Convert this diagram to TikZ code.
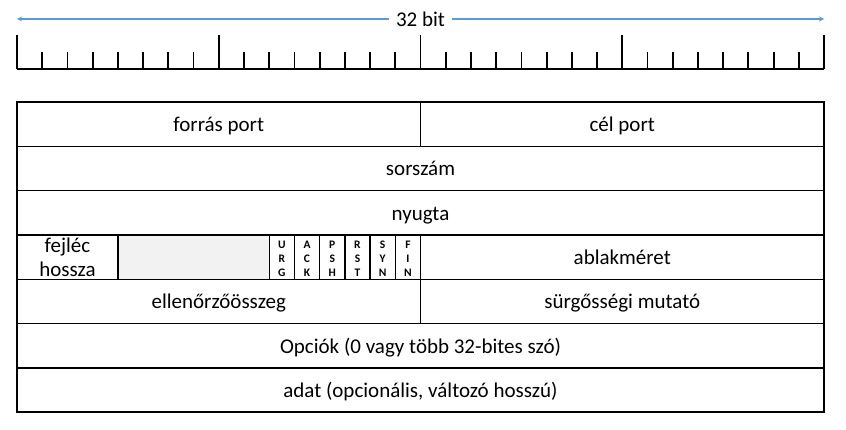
\documentclass[tikz,border=0pt]{standalone}
\usepackage{fontspec}
\setmainfont{Carlito}
\usetikzlibrary{positioning}
\definecolor{arrowblue}{RGB}{91,155,213}
\definecolor{reservedgray}{RGB}{242,242,242}
\tikzset{%
  cell/.style = {rectangle,draw,line width=1.3pt,inner sep=0pt,outer sep=0pt,
        minimum height=44.3pt,font=\fontsize{21}{24}\selectfont,align=center},
  field/.style = {cell,text height=14.7pt,text depth=0pt},
  flagbit/.style = {cell,minimum width=25.22pt,text height=39.7pt,text depth=0pt,
        font=\fontsize{11.5}{14}\selectfont\bfseries},
  widtharrow/.style = {-stealth,arrowblue,line width=1.2pt},
  rulertick/.style = {line width=1.8pt}
}

\begin{document}
\begin{tikzpicture}[x=1pt,y=1pt,node distance=0pt and 0pt]
   \useasboundingbox (0,0) rectangle (846,-430);

   % bit scale
   \node[font=\fontsize{21}{24}\selectfont,inner xsep=7pt] (bits) at (420.5,-19) {32 bit};
   \coordinate (bitsL) at (17,-19);
   \coordinate (bitsR) at (824,-19);
   \draw[widtharrow] (bits) -- (bitsL);
   \draw[widtharrow] (bits) -- (bitsR);

   \draw[rulertick] (17,-69) -- (824,-69);
   \foreach \i in {0,...,32} {
      \pgfmathsetmacro\ticktop{mod(\i,8)==0 ? 35 : 52}
      \draw[rulertick] (17+\i*25.22,-69) -- (17+\i*25.22,-\ticktop);
   }

   % header fields
   \node[field,minimum width=403.5pt,anchor=north west] (srcport) at (17,-102) {forrás port};
   \node[field,minimum width=403.5pt] (dstport) [right=of srcport] {cél port};

   \node[field,minimum width=807pt] (seqnum) [below right=of srcport.south west] {sorszám};
   \node[field,minimum width=807pt] (acknum) [below right=of seqnum.south west] {nyugta};

   \node[cell,minimum width=100.88pt] (hdrlen) [below right=of acknum.south west] {fejléc\\hossza};
   \node[cell,minimum width=151.32pt,fill=reservedgray] (reserved) [right=of hdrlen] {};
   \node[flagbit] (urg) [right=of reserved] {U\\R\\G};
   \node[flagbit] (ack) [right=of urg] {A\\C\\K};
   \node[flagbit] (psh) [right=of ack] {P\\S\\H};
   \node[flagbit] (rst) [right=of psh] {R\\S\\T};
   \node[flagbit] (syn) [right=of rst] {S\\Y\\N};
   \node[flagbit] (fin) [right=of syn] {F\\I\\N};
   \node[field,minimum width=403.5pt] (window) [right=of fin] {ablakméret};

   \node[field,minimum width=403.5pt] (checksum) [below right=of hdrlen.south west] {ellenőrzőösszeg};
   \node[field,minimum width=403.5pt] (urgptr) [right=of checksum] {sürgősségi mutató};

   \node[field,minimum width=807pt] (options) [below right=of checksum.south west] {Opciók (0 vagy több 32-bites szó)};
   \node[field,minimum width=807pt] (data) [below right=of options.south west] {adat (opcionális, változó hosszú)};
   \draw[line width=2.3pt] (data.north west) -- (data.north east);
\end{tikzpicture}
\end{document}
